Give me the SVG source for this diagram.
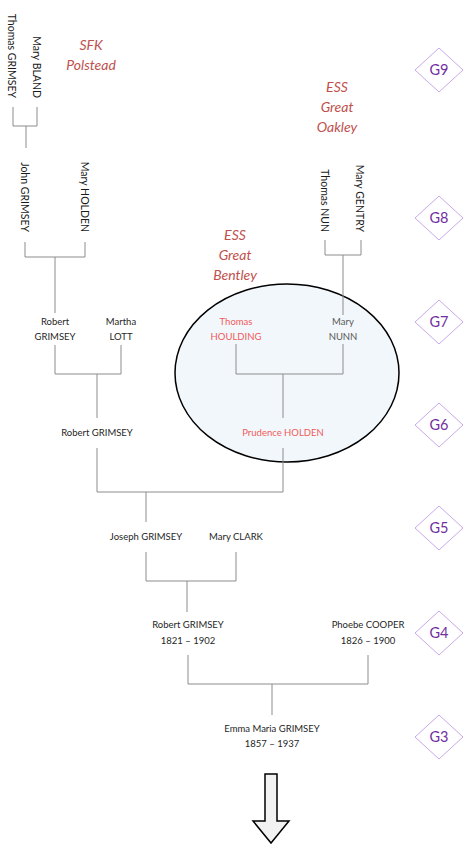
<svg xmlns="http://www.w3.org/2000/svg" width="463" height="845" viewBox="0 0 463 845">
<style>
.t{font-family:Lato,"Open Sans","Liberation Sans",sans-serif;font-size:9.5px;fill:#262626;text-anchor:middle}
.tr{font-family:Lato,"Open Sans","Liberation Sans",sans-serif;font-size:9.5px;fill:#f05a5a;text-anchor:middle}
.tg{font-family:Lato,"Open Sans","Liberation Sans",sans-serif;font-size:9.5px;fill:#595959;text-anchor:middle}
.v{font-family:Lato,"Open Sans","Liberation Sans",sans-serif;font-size:10.5px;fill:#1a1a1a;text-anchor:end}
.place{font-family:Lato,"Open Sans","Liberation Sans",sans-serif;font-size:14px;font-style:italic;fill:#c0504d;text-anchor:middle}
.gen polygon{fill:#fff;stroke:#c9a8e8;stroke-width:1}
.gen text{font-family:Lato,"Open Sans","Liberation Sans",sans-serif;font-size:14.5px;fill:#7030a0;text-anchor:middle}
.c{fill:none;stroke:#8c8c8c;stroke-width:1}
</style>
<rect width="463" height="845" fill="#fff"/>
<g id="highlight">
<ellipse cx="287" cy="373" rx="112" ry="89" fill="#f2f7fb" stroke="#000" stroke-width="1.5"/>
</g>
<g id="places">
<text class="place" x="91" y="50">SFK</text>
<text class="place" x="91" y="70">Polstead</text>
<text class="place" x="337" y="92">ESS</text>
<text class="place" x="337" y="112">Great</text>
<text class="place" x="337" y="132">Oakley</text>
<text class="place" x="235" y="240">ESS</text>
<text class="place" x="235" y="260">Great</text>
<text class="place" x="235" y="280">Bentley</text>
</g>
<g id="connectors">
<path class="c" d="M13,107V126H37V107M26,126V148"/>
<path class="c" d="M25,242V257H85V242M55,257V313"/>
<path class="c" d="M325,240V255H361V240M343,255V315"/>
<path class="c" d="M55,345V374H121V345M97,374V418"/>
<path class="c" d="M236,344V374H343V344M283,374V418"/>
<path class="c" d="M97,448V492H283V448M146,492V522"/>
<path class="c" d="M146,552V581H236V552M187,581V612"/>
<path class="c" d="M188,655V684H368V655M272,684V715"/>
</g>
<g id="thomas-grimsey"><text class="v" transform="translate(12,98) rotate(90)" dy="0.35em">Thomas GRIMSEY</text></g>
<g id="mary-bland"><text class="v" transform="translate(37,98) rotate(90)" dy="0.35em">Mary BLAND</text></g>
<g id="john-grimsey"><text class="v" transform="translate(25,232) rotate(90)" dy="0.35em">John GRIMSEY</text></g>
<g id="mary-holden"><text class="v" transform="translate(85,232) rotate(90)" dy="0.35em">Mary HOLDEN</text></g>
<g id="thomas-nun"><text class="v" transform="translate(325,232) rotate(90)" dy="0.35em">Thomas NUN</text></g>
<g id="mary-gentry"><text class="v" transform="translate(360,232) rotate(90)" dy="0.35em">Mary GENTRY</text></g>
<g id="robert-grimsey-g7"><text class="t" x="55" y="325">Robert</text><text class="t" x="55" y="340">GRIMSEY</text></g>
<g id="martha-lott"><text class="t" x="121" y="325">Martha</text><text class="t" x="121" y="340">LOTT</text></g>
<g id="thomas-houlding"><text class="tr" x="236" y="325">Thomas</text><text class="tr" x="236" y="340">HOULDING</text></g>
<g id="mary-nunn"><text class="tg" x="343" y="325">Mary</text><text class="tg" x="343" y="340">NUNN</text></g>
<g id="robert-grimsey-g6"><text class="t" x="97" y="436">Robert GRIMSEY</text></g>
<g id="prudence-holden"><text class="tr" x="283" y="436">Prudence HOLDEN</text></g>
<g id="joseph-grimsey"><text class="t" x="146" y="540">Joseph GRIMSEY</text></g>
<g id="mary-clark"><text class="t" x="236" y="540">Mary CLARK</text></g>
<g id="robert-grimsey-g4"><text class="t" x="188" y="628">Robert GRIMSEY</text><text class="t" x="188" y="644">1821 – 1902</text></g>
<g id="phoebe-cooper"><text class="t" x="368" y="628">Phoebe COOPER</text><text class="t" x="368" y="644">1826 – 1900</text></g>
<g id="emma-maria-grimsey"><text class="t" x="272" y="732">Emma Maria GRIMSEY</text><text class="t" x="272" y="747">1857 – 1937</text></g>
<g id="generations" class="gen">
<g id="g9"><polygon points="439,48 463,70 439,92 415,70"/><text x="439" y="75">G9</text></g>
<g id="g8"><polygon points="439,196 463,218 439,240 415,218"/><text x="439" y="223">G8</text></g>
<g id="g7"><polygon points="439,300 463,322 439,344 415,322"/><text x="439" y="327">G7</text></g>
<g id="g6"><polygon points="439,403 463,425 439,447 415,425"/><text x="439" y="430">G6</text></g>
<g id="g5"><polygon points="439,506 463,528 439,550 415,528"/><text x="439" y="533">G5</text></g>
<g id="g4"><polygon points="439,611 463,633 439,655 415,633"/><text x="439" y="638">G4</text></g>
<g id="g3"><polygon points="439,715 463,737 439,759 415,737"/><text x="439" y="742">G3</text></g>
</g>
<g id="arrow">
<polygon points="265,774 277,774 277,821 289,821 271,843 253,821 265,821" fill="#f2f2f2" stroke="#000" stroke-width="1.5" stroke-linejoin="miter"/>
</g>
</svg>
